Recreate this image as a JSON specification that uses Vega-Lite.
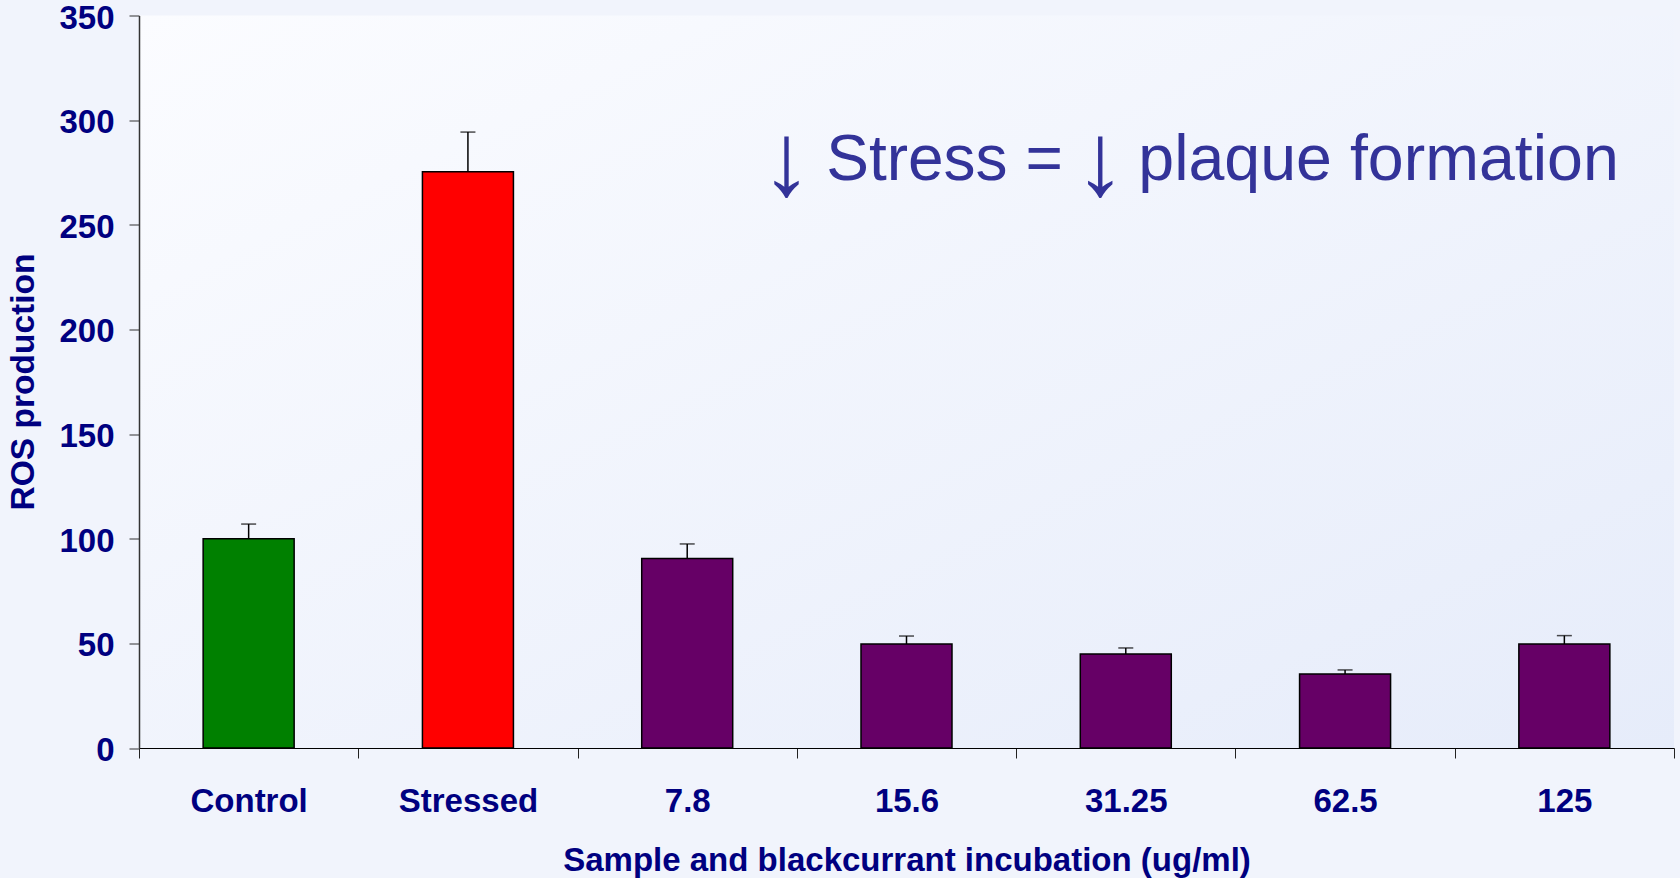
{
  "$schema": "https://vega.github.io/schema/vega-lite/v6.json",
  "width": 1535,
  "height": 732.5,
  "autosize": "none",
  "padding": {"left": 139, "top": 15.5, "right": 6, "bottom": 130},
  "background": "#f1f4fc",
  "config": {
    "view": {
      "stroke": null,
      "fill": {"gradient": "linear", "x1": 0, "y1": 0, "x2": 1, "y2": 1,
        "stops": [{"offset": 0, "color": "#fbfcff"}, {"offset": 1, "color": "#e6ecfa"}]}
    },
    "font": "Liberation Sans"
  },
  "data": {
    "values": [
      {"label": "Control", "group": "control", "value": 100, "upper": 107},
      {"label": "Stressed", "group": "stressed", "value": 275.3, "upper": 294.3},
      {"label": "7.8", "group": "blackcurrant", "value": 90.6, "upper": 97.5},
      {"label": "15.6", "group": "blackcurrant", "value": 49.7, "upper": 53.5},
      {"label": "31.25", "group": "blackcurrant", "value": 44.9, "upper": 47.8},
      {"label": "62.5", "group": "blackcurrant", "value": 35.4, "upper": 37.3},
      {"label": "125", "group": "blackcurrant", "value": 49.7, "upper": 53.7}
    ]
  },
  "layer": [
    {
      "mark": {"type": "rule", "color": "black", "strokeWidth": 1.5},
      "encoding": {
        "x": {
          "field": "label", "type": "nominal", "sort": null,
          "scale": {"domain": ["Control", "Stressed", "7.8", "15.6", "31.25", "62.5", "125"], "paddingInner": 0, "paddingOuter": 0},
          "axis": {
            "title": "Sample and blackcurrant incubation (ug/ml)",
            "tickBand": "extent",
            "tickSize": 10,
            "tickColor": "#222222",
            "domainColor": "#000000",
            "labelAngle": 0,
            "labelFontSize": 33,
            "labelFontWeight": "bold",
            "labelColor": "#000080",
            "labelBaseline": "alphabetic",
            "labelPadding": 53,
            "titleFontSize": 33,
            "titleFontWeight": "bold",
            "titleColor": "#000080",
            "titleBaseline": "alphabetic",
            "titleX": 767.5,
            "titleY": 122,
            "titleAlign": "center"
          }
        },
        "y": {
          "field": "value", "type": "quantitative",
          "scale": {"domain": [0, 350], "nice": false, "zero": true},
          "axis": {
            "title": "ROS production",
            "values": [0, 50, 100, 150, 200, 250, 300, 350],
            "grid": false,
            "tickSize": 10,
            "tickColor": "#333333",
            "domainColor": "#333333",
            "domainWidth": 1.5,
            "labelFontSize": 33,
            "labelFontWeight": "bold",
            "labelColor": "#000080",
            "labelPadding": 15,
            "labelOffset": 2.5,
            "titleFontSize": 33.5,
            "titleFontWeight": "bold",
            "titleColor": "#000080",
            "titleAngle": -90,
            "titleBaseline": "alphabetic",
            "titleAlign": "center",
            "titleX": -106,
            "titleY": 366
          }
        },
        "y2": {"field": "upper"}
      }
    },
    {
      "mark": {"type": "tick", "color": "black", "size": 15, "thickness": 1.5},
      "encoding": {
        "x": {"field": "label", "type": "nominal", "sort": null},
        "y": {"field": "upper", "type": "quantitative"}
      }
    },
    {
      "mark": {"type": "bar", "width": {"band": 0.415}, "stroke": "black", "strokeWidth": 1.5},
      "encoding": {
        "x": {"field": "label", "type": "nominal", "sort": null},
        "y": {"field": "value", "type": "quantitative"},
        "color": {
          "field": "group", "type": "nominal",
          "scale": {"domain": ["control", "stressed", "blackcurrant"], "range": ["#008000", "#ff0000", "#660066"]},
          "legend": null
        }
      }
    },
    {
      "data": {"values": [{"label": "15.6", "y": 271.4, "note": "Stress ="}]},
      "mark": {"type": "text", "fontSize": 64, "color": "#333399", "align": "left", "baseline": "alphabetic", "font": "Liberation Sans"},
      "encoding": {
        "x": {"field": "label", "type": "nominal", "bandPosition": 0.134},
        "y": {"field": "y", "type": "quantitative"},
        "text": {"field": "note"}
      }
    },
    {
      "data": {"values": [{"label": "31.25", "y": 271.4, "note": "plaque formation"}]},
      "mark": {"type": "text", "fontSize": 64.5, "color": "#333399", "align": "left", "baseline": "alphabetic", "font": "Liberation Sans"},
      "encoding": {
        "x": {"field": "label", "type": "nominal", "bandPosition": 0.557},
        "y": {"field": "y", "type": "quantitative"},
        "text": {"field": "note"}
      }
    },
    {
      "data": {"values": [{"label": "7.8", "y": 264, "note": "↓"}]},
      "mark": {"type": "text", "fontSize": 104, "color": "#333399", "align": "center", "baseline": "alphabetic", "font": "Liberation Sans"},
      "encoding": {
        "x": {"field": "label", "type": "nominal", "bandPosition": 0.953},
        "y": {"field": "y", "type": "quantitative"},
        "text": {"field": "note"}
      }
    },
    {
      "data": {"values": [{"label": "31.25", "y": 264, "note": "↓"}]},
      "mark": {"type": "text", "fontSize": 104, "color": "#333399", "align": "center", "baseline": "alphabetic", "font": "Liberation Sans"},
      "encoding": {
        "x": {"field": "label", "type": "nominal", "bandPosition": 0.383},
        "y": {"field": "y", "type": "quantitative"},
        "text": {"field": "note"}
      }
    }
  ]
}
